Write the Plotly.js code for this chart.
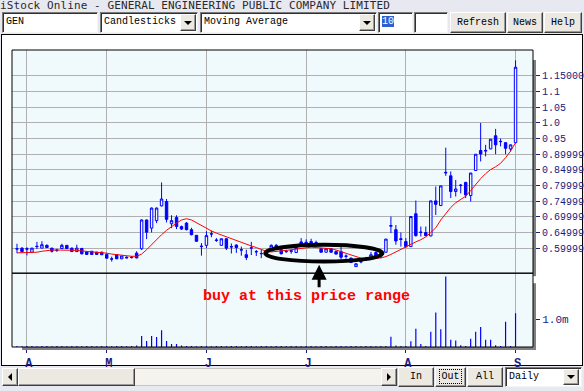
<!DOCTYPE html>
<html><head><meta charset="utf-8">
<script src="https://cdn.plot.ly/plotly-3.0.1.min.js"></script>
<style>
html,body{margin:0;padding:0;}
body{width:584px;height:391px;overflow:hidden;background:#e8e8f0;position:relative;font-family:"Liberation Mono",monospace;}
.abs{position:absolute;box-sizing:border-box;}
#title{left:0px;top:0;height:12px;line-height:12px;font-size:11px;color:#2a2a2a;white-space:nowrap;font-family:"DejaVu Sans Mono",monospace;letter-spacing:0.1px;}
.inp{background:#fff;border:1px solid;border-color:#7a7a7a #f4f4f4 #f4f4f4 #7a7a7a;box-shadow:inset 1px 1px 0 #303030;font-size:10px;line-height:18px;padding-left:3px;color:#000;white-space:nowrap;}
.btn{background:#ece9e2;border:1px solid;border-color:#ffffff #404040 #404040 #ffffff;box-shadow:inset -1px -1px 0 #9a9a9a;font-size:10px;text-align:center;line-height:17px;color:#000;white-space:nowrap;}
.tri{position:absolute;left:50%;top:50%;width:0;height:0;margin-left:-4px;margin-top:-2px;border-left:4px solid transparent;border-right:4px solid transparent;border-top:4px solid #000;}
.triL{position:absolute;left:50%;top:50%;width:0;height:0;margin-left:-2px;margin-top:-4px;border-top:4px solid transparent;border-bottom:4px solid transparent;border-right:4px solid #000;}
.triR{position:absolute;left:50%;top:50%;width:0;height:0;margin-left:-2px;margin-top:-4px;border-top:4px solid transparent;border-bottom:4px solid transparent;border-left:4px solid #000;}
#panel{left:1px;top:34px;width:582px;height:332px;background:#fff;border:1px solid #000;}
#chart{left:0;top:0;width:584px;height:391px;}
</style>
</head>
<body>
<div id="title" class="abs">iStock Online - GENERAL ENGINEERING PUBLIC COMPANY LIMITED</div>
<div class="abs inp" style="left:2px;top:12px;width:96px;height:21px;">GEN</div>
<div class="abs inp" style="left:100px;top:12px;width:98px;height:21px;">Candlesticks
  <div class="abs btn" style="left:79px;top:1px;width:16px;height:17px;"><div class="tri"></div></div></div>
<div class="abs inp" style="left:200px;top:12px;width:177px;height:21px;">Moving Average
  <div class="abs btn" style="left:158px;top:1px;width:16px;height:17px;"><div class="tri"></div></div></div>
<div class="abs inp" style="left:378px;top:12px;width:35px;height:21px;"><span style="background:#2f5fd0;color:#fff;">10</span></div>
<div class="abs inp" style="left:414px;top:12px;width:34px;height:21px;"></div>
<div class="abs btn" style="left:450px;top:12px;width:56px;height:21px;line-height:19px;">Refresh</div>
<div class="abs btn" style="left:507px;top:12px;width:36px;height:21px;line-height:19px;">News</div>
<div class="abs btn" style="left:544px;top:12px;width:38px;height:21px;line-height:19px;">Help</div>
<div id="panel" class="abs"></div>
<div class="abs" style="left:2px;top:368px;width:396px;height:18px;background:#f4f3ee;border:1px solid #c8c6c0;"></div>
<div class="abs btn" style="left:2px;top:368px;width:16px;height:18px;"><div class="triL"></div></div>
<div class="abs btn" style="left:18px;top:368px;width:117px;height:18px;background:#ebe9e2;"></div>
<div class="abs btn" style="left:381px;top:368px;width:16px;height:18px;"><div class="triR"></div></div>
<div class="abs btn" style="left:398px;top:367px;width:36px;height:20px;line-height:18px;">In</div>
<div class="abs btn" style="left:435px;top:367px;width:31px;height:20px;line-height:18px;"><span style="outline:1px dotted #000;outline-offset:1px;">Out</span></div>
<div class="abs btn" style="left:467px;top:367px;width:36px;height:20px;line-height:18px;">All</div>
<div class="abs inp" style="left:505px;top:367px;width:77px;height:20px;line-height:18px;">Daily
  <div class="abs btn" style="left:57px;top:1px;width:16px;height:16px;"><div class="tri"></div></div></div>
<div id="chart" class="abs"></div>
<script>
// ---- data ----
const monthTickIdx = [2, 18, 38, 58, 78, 100];
const monthLabels = ['A', 'M', 'J', 'J', 'A', 'S'];
const priceTickVals = [0.6, 0.65, 0.7, 0.75, 0.8, 0.85, 0.9, 0.95, 1.0, 1.05, 1.1, 1.15];
const priceTickText = ['0.59999', '0.64999', '0.69999', '0.74999', '0.79999', '0.84999', '0.89999', '0.95', '1.0', '1.05', '1.1', '1.15000'];
const volTickVals = [1.0];
const volTickText = ['1.0m'];

const open = [0.597,0.600,0.598,0.587,0.606,0.600,0.609,0.600,0.594,0.599,
  0.609,0.600,0.589,0.599,0.588,0.590,0.587,0.587,0.580,0.566,
  0.579,0.566,0.571,0.571,0.584,0.598,0.690,0.664,0.688,0.735,
  0.749,0.678,0.698,0.669,0.680,0.659,0.641,0.605,0.609,0.645,
  0.626,0.609,0.630,0.605,0.610,0.595,0.579,0.600,0.588,0.582,
  0.590,0.597,0.609,0.595,0.590,0.592,0.586,0.620,0.619,0.621,
  0.618,0.598,0.587,0.598,0.589,0.589,0.575,0.568,0.541,0.556,
  0.565,0.571,0.586,0.583,0.587,0.670,0.659,0.630,0.621,0.605,
  0.710,0.650,0.650,0.639,0.751,0.736,0.840,0.831,0.781,0.800,
  0.810,0.768,0.848,0.912,0.910,0.917,0.959,0.940,0.937,0.917,
  0.937];
const high = [0.614,0.603,0.603,0.601,0.620,0.622,0.612,0.601,0.598,0.614,
  0.610,0.602,0.611,0.601,0.590,0.591,0.588,0.589,0.583,0.573,
  0.580,0.576,0.574,0.575,0.590,0.692,0.691,0.730,0.730,0.810,
  0.757,0.705,0.705,0.672,0.683,0.665,0.642,0.616,0.654,0.656,
  0.632,0.630,0.631,0.615,0.612,0.605,0.595,0.620,0.594,0.595,
  0.596,0.612,0.613,0.598,0.595,0.596,0.603,0.632,0.628,0.630,
  0.624,0.600,0.599,0.600,0.592,0.611,0.580,0.570,0.552,0.568,
  0.572,0.588,0.590,0.595,0.629,0.701,0.674,0.650,0.632,0.701,
  0.752,0.669,0.669,0.751,0.797,0.799,0.921,0.845,0.818,0.805,
  0.812,0.840,0.900,1.000,0.930,0.948,0.981,0.950,0.938,0.931,
  1.200];
const low = [0.584,0.586,0.577,0.586,0.597,0.600,0.600,0.586,0.588,0.598,
  0.598,0.588,0.588,0.580,0.579,0.579,0.579,0.578,0.567,0.557,
  0.565,0.565,0.568,0.567,0.567,0.594,0.629,0.650,0.680,0.733,
  0.682,0.664,0.661,0.658,0.657,0.641,0.620,0.576,0.600,0.635,
  0.620,0.608,0.594,0.583,0.585,0.576,0.562,0.578,0.575,0.568,
  0.585,0.596,0.594,0.580,0.585,0.582,0.585,0.608,0.609,0.610,
  0.608,0.586,0.586,0.586,0.580,0.565,0.566,0.553,0.540,0.552,
  0.560,0.570,0.574,0.568,0.586,0.648,0.611,0.605,0.600,0.604,
  0.637,0.637,0.638,0.638,0.706,0.735,0.831,0.760,0.765,0.775,
  0.760,0.749,0.847,0.877,0.893,0.916,0.900,0.925,0.900,0.909,
  0.935];
const close = [0.598,0.589,0.597,0.600,0.605,0.611,0.602,0.590,0.593,0.609,
  0.599,0.589,0.600,0.582,0.580,0.580,0.580,0.579,0.568,0.565,
  0.566,0.575,0.569,0.570,0.569,0.690,0.651,0.728,0.728,0.757,
  0.692,0.688,0.669,0.661,0.659,0.643,0.622,0.606,0.640,0.646,
  0.625,0.630,0.600,0.604,0.602,0.594,0.570,0.601,0.589,0.583,
  0.591,0.609,0.596,0.582,0.589,0.590,0.602,0.609,0.610,0.611,
  0.609,0.587,0.598,0.587,0.581,0.571,0.574,0.554,0.550,0.557,
  0.566,0.579,0.575,0.584,0.629,0.672,0.623,0.628,0.605,0.701,
  0.640,0.651,0.640,0.751,0.740,0.799,0.842,0.781,0.789,0.801,
  0.770,0.840,0.900,0.901,0.912,0.948,0.930,0.941,0.919,0.930,
  1.178];
const movingAvg10 = [0.585,0.585,0.585,0.586,0.587,0.590,0.593,0.594,0.594,0.594,
  0.594,0.594,0.593,0.591,0.590,0.589,0.587,0.586,0.584,0.581,
  0.579,0.577,0.575,0.574,0.574,0.581,0.595,0.612,0.628,0.643,
  0.657,0.670,0.680,0.690,0.694,0.690,0.681,0.672,0.663,0.655,
  0.648,0.642,0.636,0.629,0.623,0.618,0.612,0.607,0.602,0.596,
  0.590,0.588,0.589,0.591,0.593,0.595,0.597,0.600,0.602,0.603,
  0.602,0.601,0.600,0.598,0.594,0.589,0.584,0.578,0.572,0.568,
  0.566,0.566,0.567,0.569,0.573,0.580,0.588,0.598,0.606,0.613,
  0.620,0.627,0.636,0.650,0.665,0.690,0.712,0.730,0.745,0.756,
  0.766,0.784,0.804,0.822,0.838,0.851,0.860,0.871,0.889,0.910,
  0.937];
// volume in millions of shares
const volumeM = [0.04,0.03,0.04,0.04,0.03,0.04,0.04,0.03,0.04,0.04,
  0.03,0.04,0.04,0.03,0.04,0.04,0.03,0.04,0.04,0.03,
  0.04,0.04,0.03,0.04,0.05,0.40,0.22,0.40,0.36,0.60,
  0.22,0.11,0.11,0.05,0.04,0.04,0.03,0.04,0.04,0.03,
  0.04,0.04,0.03,0.04,0.04,0.03,0.04,0.04,0.03,0.04,
  0.04,0.03,0.04,0.04,0.03,0.04,0.04,0.03,0.04,0.04,
  0.03,0.04,0.04,0.03,0.04,0.04,0.03,0.04,0.04,0.03,
  0.04,0.04,0.03,0.04,0.04,0.37,0.05,0.04,0.04,0.21,
  0.66,0.11,0.04,0.55,1.24,0.64,2.54,0.26,0.23,0.06,
  0.04,0.30,0.55,0.72,0.26,0.26,0.06,0.04,0.91,0.04,
  1.22];
const dayIdx = close.map((_, i) => i);

const blue = '#0000ff';
const navy = '#1a1a80';
const bg = '#f0fafc';

const traces = [
  {type:'candlestick', x:dayIdx, open:open, high:high, low:low, close:close,
   xaxis:'x', yaxis:'y', whiskerwidth:0,
   increasing:{line:{color:blue, width:1}, fillcolor:bg},
   decreasing:{line:{color:blue, width:1}, fillcolor:blue},
   hoverinfo:'skip'},
  {type:'scatter', mode:'lines', x:dayIdx, y:movingAvg10, xaxis:'x', yaxis:'y',
   line:{color:'#ff0000', width:1}, hoverinfo:'skip'},
  {type:'bar', x:dayIdx, y:volumeM, xaxis:'x', yaxis:'y2', width:0.24,
   marker:{color:blue, line:{width:0}}, hoverinfo:'skip'}
];

const splitY = 0.2485;
const pxX = 1/521, pxY = 1/297;
const layout = {
  width:584, height:391,
  margin:{l:12, r:51, t:50, b:44, pad:0},
  paper_bgcolor:'rgba(0,0,0,0)',
  plot_bgcolor:bg,
  showlegend:false,
  boxgap:0.3,
  xaxis:{range:[-1.0, 103.5], anchor:'y2', tickmode:'array', tickvals:monthTickIdx, ticktext:monthLabels,
    ticks:'outside', ticklen:5, tickcolor:navy, tickwidth:1, ticklabelshift:2,
    tickfont:{family:'Liberation Mono', size:12, color:navy, weight:'bold'},
    showgrid:true, gridcolor:'#b0b0b0', gridwidth:1, zeroline:false, showline:false,
    rangeslider:{visible:false}, fixedrange:true},
  yaxis:{domain:[splitY, 1], range:[0.520, 1.233], side:'right', anchor:'x',
    tickmode:'array', tickvals:priceTickVals, ticktext:priceTickText,
    ticks:'outside', ticklen:6, tickcolor:navy, tickwidth:1, ticklabelstandoff:0,
    tickfont:{family:'Liberation Mono', size:10, color:navy},
    showgrid:true, gridcolor:'#b0b0b0', gridwidth:1, zeroline:false, showline:false, fixedrange:true},
  yaxis2:{domain:[0, splitY], range:[0, 2.66], side:'right', anchor:'x',
    tickmode:'array', tickvals:volTickVals, ticktext:volTickText,
    ticks:'outside', ticklen:6, tickcolor:navy, tickwidth:1, ticklabelstandoff:0,
    tickfont:{family:'Liberation Mono', size:11, color:navy},
    showgrid:false, zeroline:false, showline:false, fixedrange:true},
  shapes:[
    // pane shadows
    {type:'rect', xref:'paper', yref:'paper', x0:1, x1:1+3*pxX, y0:splitY-3*pxY, y1:1-10*pxY, fillcolor:'#808080', line:{width:0}, layer:'above'},
    {type:'rect', xref:'paper', yref:'paper', x0:1, x1:1+3*pxX, y0:-3*pxY, y1:splitY-10*pxY, fillcolor:'#808080', line:{width:0}, layer:'above'},
    {type:'rect', xref:'paper', yref:'paper', x0:10*pxX, x1:1+3*pxX, y0:-3*pxY, y1:0, fillcolor:'#808080', line:{width:0}, layer:'above'},
    // pane borders
    {type:'rect', xref:'paper', yref:'paper', x0:0, x1:1, y0:splitY, y1:1, line:{color:'#000', width:1}, layer:'above'},
    {type:'rect', xref:'paper', yref:'paper', x0:0, x1:1, y0:0, y1:splitY, line:{color:'#000', width:1}, layer:'above'},
    // hand-drawn ellipse around the buy zone
    {type:'circle', xref:'x', yref:'y', x0:49.8, x1:73.3, y0:0.557, y1:0.611, line:{color:'#000', width:4}, layer:'above'}
  ],
  annotations:[
    {xref:'x', yref:'y', x:60.6, y:0.547, ax:0, ay:24, text:'', showarrow:true,
     arrowhead:2, arrowsize:1, arrowwidth:3, arrowcolor:'#000', standoff:0},
    {xref:'paper', yref:'paper', x:0.5643, y:0.1717, xanchor:'center', yanchor:'middle',
     text:'<b>buy at this price range</b>', showarrow:false,
     font:{family:'Liberation Mono', size:15, color:'#ff0000'}}
  ]
};
Plotly.newPlot('chart', traces, layout, {staticPlot:true, displayModeBar:false});
</script>
</body></html>
